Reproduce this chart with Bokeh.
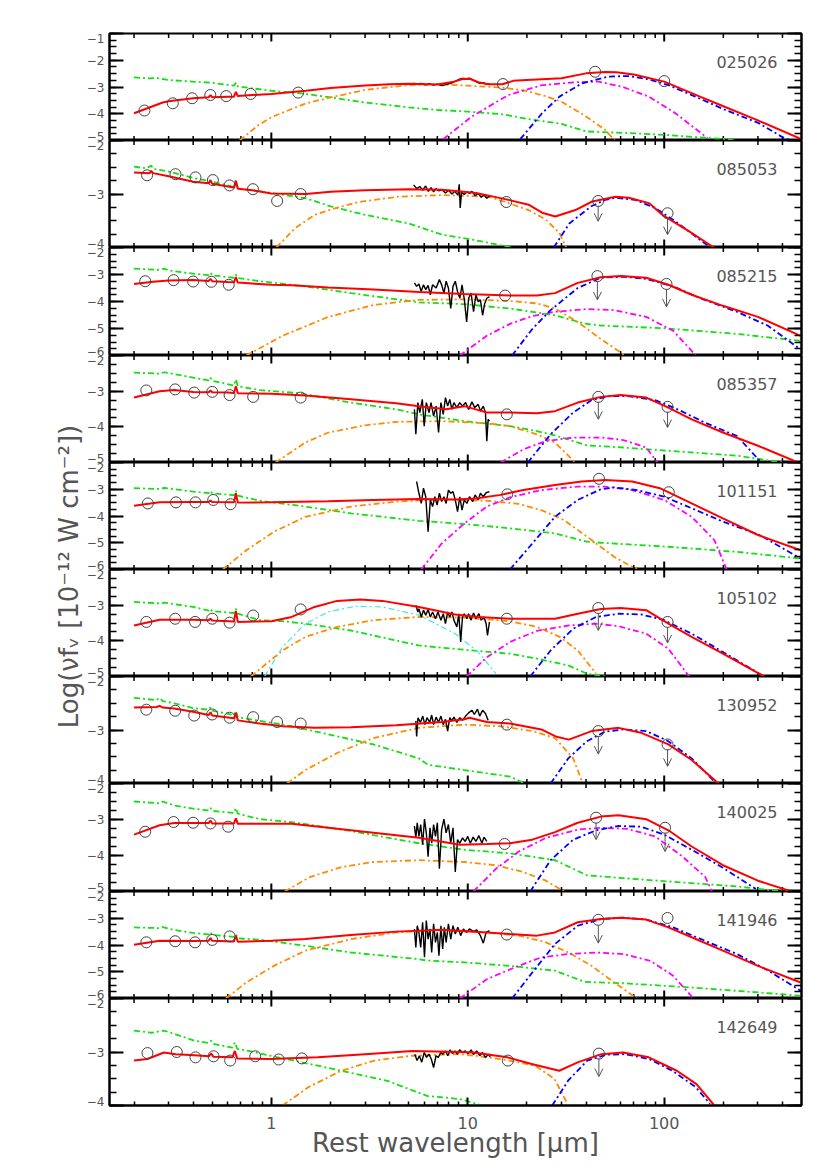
import math
from bokeh.plotting import figure
from bokeh.layouts import row, column
from bokeh.models import (Range1d, LogAxis, LinearAxis, FixedTicker, Label, Arrow,
                          OpenHead, ColumnDataSource, BasicTickFormatter)
from bokeh.embed import file_html
from bokeh.resources import INLINE

# ---------------------------------------------------------------- axes data
X_RANGE = (0.15, 500)
X_MAJOR = [1, 10, 100]
X_MINOR = [0.2, 0.3, 0.4, 0.5, 0.6, 0.7, 0.8, 0.9, 2, 3, 4, 5, 6, 7, 8, 9,
           20, 30, 40, 50, 60, 70, 80, 90, 200, 300, 400]
X_TITLE = "Rest wavelength [μm]"
Y_TITLE = "Log(νfᵥ [10⁻¹² W cm⁻²])"

# ---------------------------------------------------------------- panel 1
P1_ID = "025026"
P1_YLIM = (-5, -1)
P1_PHOT_X = [0.226, 0.315, 0.395, 0.489, 0.589, 0.785, 1.37, 15.1, 44.5, 100]
P1_PHOT_Y = [-3.88, -3.61, -3.42, -3.30, -3.34, -3.26, -3.21, -2.89, -2.43, -2.78]
P1_UL_X, P1_UL_Y0, P1_UL_Y1 = [], [], []
P1_RED_X = [0.2, 0.28, 0.3, 0.4, 0.48, 0.49, 0.5, 0.6, 0.645, 0.66, 0.675, 0.8, 1, 1.5, 2, 3, 4, 5,
            7, 8.5, 9.5, 10.3, 11.3, 12.7, 15, 17, 20, 30, 40, 50, 57, 70, 100, 150, 200, 300, 500]
P1_RED_Y = [-3.98, -3.58, -3.53, -3.42, -3.38, -3.30, -3.38, -3.36, -3.36, -3.18, -3.34, -3.30,
            -3.26, -3.14, -3.04, -2.94, -2.90, -2.88, -2.91, -2.80, -2.69, -2.70, -2.82, -2.90,
            -2.90, -2.77, -2.74, -2.67, -2.49, -2.44, -2.45, -2.53, -2.80, -3.34, -3.72, -4.25, -4.95]
P1_ORA_X = [0.69, 0.85, 1, 1.5, 2, 3, 5, 7, 10, 15, 20, 25, 30, 40, 50, 56]
P1_ORA_Y = [-5.0, -4.45, -4.13, -3.61, -3.39, -3.11, -2.93, -2.90, -2.95, -3.02, -3.15, -3.35,
            -3.55, -4.10, -4.60, -5.0]
P1_GRN_X = [0.2, 0.24, 0.26, 0.3, 0.4, 0.5, 0.52, 0.6, 0.645, 0.66, 0.675, 0.8, 1, 1.5, 2, 3, 5,
            7, 10, 15, 20, 30, 40, 50, 70, 100, 150, 200, 230]
P1_GRN_Y = [-2.64, -2.68, -2.66, -2.74, -2.80, -2.84, -2.86, -2.92, -2.95, -2.84, -2.98, -3.05,
            -3.14, -3.26, -3.39, -3.58, -3.76, -3.86, -3.92, -4.02, -4.19, -4.38, -4.66, -4.69,
            -4.73, -4.79, -4.88, -4.94, -5.0]
P1_MAG_X = [7.5, 10.5, 16.1, 23.9, 35.3, 46.5, 61, 83.6, 114, 166]
P1_MAG_Y = [-4.95, -4.10, -3.30, -2.93, -2.82, -2.80, -2.99, -3.36, -3.98, -4.91]
P1_BLU_X = [18.5, 23.9, 29.3, 38.2, 52, 65.6, 83.6, 105, 144, 205, 303, 407, 500]
P1_BLU_Y = [-4.95, -3.98, -3.36, -2.86, -2.61, -2.59, -2.71, -2.93, -3.36, -3.86, -4.35, -4.91, -5.1]
P1_SPEC_X = [5.3, 5.5, 5.8, 6.1, 6.4, 6.7, 7.0, 7.4, 7.8, 8.2, 8.6, 9.0, 9.4, 9.8, 10.2, 10.6,
             11.0, 11.5, 12.0, 12.5, 12.9]
P1_SPEC_Y = [-2.86, -2.90, -2.87, -2.92, -2.88, -2.93, -2.89, -2.95, -2.90, -2.86, -2.80, -2.72,
             -2.68, -2.70, -2.67, -2.73, -2.80, -2.86, -2.84, -2.90, -2.88]

# ---------------------------------------------------------------- panel 2
P2_ID = "085053"
P2_YLIM = (-4, -2)
P2_PHOT_X = [0.233, 0.325, 0.411, 0.504, 0.613, 0.806, 1.07, 1.41, 15.7, 46.1, 104]
P2_PHOT_Y = [-2.65, -2.63, -2.69, -2.74, -2.84, -2.91, -3.13, -3.00, -3.15, -3.13, -3.36]
P2_UL_X = [46.1, 104]
P2_UL_Y0 = [-3.22, -3.45]
P2_UL_Y1 = [-3.51, -3.76]
P2_RED_X = [0.2, 0.24, 0.245, 0.25, 0.3, 0.4, 0.48, 0.49, 0.5, 0.6, 0.645, 0.66, 0.675, 0.8, 1,
            1.5, 2, 3, 5, 7.4, 9, 11, 12.8, 16.1, 20.4, 23.9, 27.9, 35.3, 43, 56.5, 66, 83.6,
            97.8, 134, 179]
P2_RED_Y = [-2.60, -2.61, -2.57, -2.61, -2.67, -2.77, -2.80, -2.74, -2.81, -2.86, -2.88, -2.75,
            -2.90, -2.93, -2.99, -3.00, -2.96, -2.93, -2.91, -2.92, -2.95, -2.98, -3.03, -3.11,
            -3.20, -3.35, -3.42, -3.30, -3.14, -3.05, -3.07, -3.17, -3.39, -3.70, -4.0]
P2_ORA_X = [1.06, 1.32, 1.66, 2.1, 2.77, 4.43, 7.37, 12.8, 16.1, 20.4, 25, 29.3, 31.7]
P2_ORA_Y = [-4.0, -3.64, -3.39, -3.27, -3.15, -3.05, -3.02, -3.05, -3.17, -3.30, -3.48, -3.73, -4.0]
P2_GRN_X = [0.2, 0.23, 0.245, 0.25, 0.3, 0.4, 0.5, 0.6, 0.645, 0.66, 0.675, 0.8, 1, 1.5, 2, 3,
            5, 7.4, 10.8, 16.8]
P2_GRN_Y = [-2.49, -2.52, -2.47, -2.53, -2.58, -2.70, -2.77, -2.84, -2.87, -2.76, -2.90, -2.93,
            -2.98, -3.08, -3.23, -3.39, -3.55, -3.76, -3.86, -4.0]
P2_MAG_X, P2_MAG_Y = [], []
P2_BLU_X = [27.4, 32.9, 42.5, 50, 56.5, 71, 90, 114, 144, 172]
P2_BLU_Y = [-4.0, -3.55, -3.23, -3.11, -3.07, -3.11, -3.26, -3.51, -3.79, -4.0]
P2_SPEC_X = [5.3, 5.5, 5.7, 5.9, 6.1, 6.3, 6.5, 6.7, 6.9, 7.1, 7.4, 7.7, 8.0, 8.3, 8.6, 8.9,
             9.05, 9.15, 9.3, 9.6, 9.9, 10.2, 10.5, 10.9, 11.3, 11.7, 12.1, 12.5, 12.9]
P2_SPEC_Y = [-2.83, -2.90, -2.86, -2.93, -2.85, -2.95, -2.88, -2.96, -2.90, -2.94, -2.92, -2.98,
             -2.93, -3.00, -2.95, -3.02, -2.82, -3.26, -2.97, -3.01, -2.96, -2.99, -2.95, -3.03,
             -2.99, -3.06, -3.02, -3.08, -3.04]

# ---------------------------------------------------------------- panel 3
P3_ID = "085215"
P3_YLIM = (-6, -2)
P3_PHOT_X = [0.228, 0.318, 0.40, 0.495, 0.607, 15.5, 45.7, 102.7]
P3_PHOT_Y = [-3.25, -3.21, -3.26, -3.27, -3.38, -3.78, -3.06, -3.35]
P3_UL_X = [45.7, 102.7]
P3_UL_Y0 = [-3.25, -3.54]
P3_UL_Y1 = [-3.94, -4.20]
P3_RED_X = [0.2, 0.25, 0.3, 0.4, 0.48, 0.49, 0.5, 0.6, 0.645, 0.66, 0.675, 1, 1.27, 1.95, 3.31,
            5.64, 9.6, 16.4, 22.5, 27.8, 36.3, 47.6, 60, 81, 105, 138, 199, 300, 495]
P3_RED_Y = [-3.35, -3.27, -3.22, -3.20, -3.24, -3.16, -3.25, -3.28, -3.29, -3.10, -3.30, -3.38,
            -3.40, -3.48, -3.56, -3.65, -3.72, -3.78, -3.78, -3.69, -3.31, -3.10, -3.06, -3.12,
            -3.38, -3.75, -4.16, -4.57, -5.27]
P3_ORA_X = [0.746, 1.14, 1.95, 3.31, 5.64, 9.6, 16.4, 22.5, 27.8, 36.3, 47.6, 63.3]
P3_ORA_Y = [-6.0, -5.27, -4.57, -4.13, -3.94, -3.92, -3.98, -4.07, -4.26, -4.76, -5.39, -6.0]
P3_GRN_X = [0.2, 0.27, 0.285, 0.3, 0.4, 0.48, 0.49, 0.5, 0.645, 0.66, 0.675, 0.875, 1.49, 2.54,
            5.64, 9.6, 16.4, 27.8, 39.4, 47.6, 100, 235, 495]
P3_GRN_Y = [-2.78, -2.83, -2.78, -2.85, -2.97, -3.02, -2.93, -3.03, -3.12, -3.00, -3.13, -3.25,
            -3.44, -3.69, -4.03, -4.10, -4.26, -4.51, -4.82, -4.89, -4.99, -5.20, -5.46]
P3_MAG_X = [9.1, 12.5, 16.4, 21.3, 27.8, 40.4, 55.7, 81, 111, 145]
P3_MAG_Y = [-6.0, -5.27, -4.83, -4.54, -4.38, -4.28, -4.32, -4.57, -5.08, -6.0]
P3_BLU_X = [16.8, 21.3, 26.4, 36.3, 47.6, 62, 81, 111, 153, 234, 336, 493]
P3_BLU_Y = [-6.0, -5.02, -4.32, -3.50, -3.12, -3.08, -3.16, -3.44, -3.88, -4.38, -4.89, -5.77]
P3_SPEC_X = [5.35, 5.49, 5.64, 5.79, 5.95, 6.11, 6.28, 6.45, 6.62, 6.9, 7.17, 7.36, 7.56, 7.76,
             7.97, 8.19, 8.41, 8.64, 8.87, 9.11, 9.35, 9.61, 9.87, 10.1, 10.4, 10.7, 11.0, 11.3,
             11.6, 11.9, 12.2, 12.5, 12.9]
P3_SPEC_Y = [-3.31, -3.44, -3.35, -3.63, -3.38, -3.56, -3.40, -3.75, -3.38, -3.50, -3.19, -3.38,
             -3.69, -3.25, -3.50, -4.26, -3.44, -3.25, -3.63, -3.88, -3.38, -3.94, -4.76, -3.88,
             -3.69, -4.38, -3.75, -4.01, -3.94, -4.51, -4.07, -3.88, -3.82]

# ---------------------------------------------------------------- panel 4
P4_ID = "085357"
P4_YLIM = (-5, -2)
P4_PHOT_X = [0.231, 0.324, 0.405, 0.50, 0.613, 0.808, 1.41, 15.8, 46.2, 104]
P4_PHOT_Y = [-2.98, -2.95, -3.04, -3.02, -3.11, -3.16, -3.18, -3.65, -3.16, -3.44]
P4_UL_X = [46.2, 104]
P4_UL_Y0 = [-3.30, -3.58]
P4_UL_Y1 = [-3.79, -4.02]
P4_RED_X = [0.2, 0.27, 0.32, 0.4, 0.48, 0.49, 0.5, 0.6, 0.645, 0.66, 0.675, 1, 1.49, 2.54, 4.32,
            5.64, 7.76, 9.6, 11.0, 12.5, 16.4, 22.5, 27.8, 36.3, 47.6, 60, 81, 105, 138, 199,
            300, 480]
P4_RED_Y = [-3.18, -3.00, -2.97, -3.02, -3.03, -2.98, -3.03, -3.04, -3.05, -2.86, -3.06, -3.07,
            -3.12, -3.23, -3.34, -3.42, -3.51, -3.42, -3.51, -3.60, -3.60, -3.62, -3.56, -3.32,
            -3.16, -3.11, -3.18, -3.46, -3.79, -4.16, -4.53, -5.00]
P4_ORA_X = [1.05, 1.49, 1.95, 2.98, 4.32, 7.36, 12.5, 16.4, 22.5, 27.8, 35.3]
P4_ORA_Y = [-5.0, -4.44, -4.16, -3.96, -3.86, -3.84, -3.90, -3.98, -4.21, -4.44, -5.0]
P4_GRN_X = [0.2, 0.27, 0.285, 0.4, 0.48, 0.49, 0.5, 0.645, 0.66, 0.675, 0.875, 1.4, 2.54, 4.32,
            5.64, 9.6, 16.4, 22.5, 27.8, 40.4, 62, 105, 235, 400]
P4_GRN_Y = [-2.48, -2.51, -2.47, -2.62, -2.70, -2.62, -2.71, -2.84, -2.67, -2.86, -2.97, -3.06,
            -3.32, -3.51, -3.65, -3.84, -3.98, -4.12, -4.24, -4.52, -4.58, -4.67, -4.81, -5.0]
P4_MAG_X = [14.7, 19.2, 25, 34.4, 47.6, 62, 81, 92.3]
P4_MAG_Y = [-5.0, -4.63, -4.40, -4.30, -4.30, -4.37, -4.58, -5.0]
P4_BLU_X = [20.2, 26.4, 34.4, 42.7, 52.8, 65, 89.9, 117, 161, 235, 306]
P4_BLU_Y = [-5.0, -4.21, -3.60, -3.25, -3.14, -3.14, -3.25, -3.51, -3.88, -4.26, -4.95]
P4_SPEC_X = [5.35, 5.44, 5.57, 5.7, 5.87, 6.0, 6.15, 6.35, 6.5, 6.7, 6.9, 7.1, 7.3, 7.5, 7.7,
             7.9, 8.1, 8.3, 8.5, 8.8, 9.1, 9.4, 9.75, 10.1, 10.5, 10.85, 11.3, 11.6, 12.0, 12.3,
             12.5, 12.7, 12.9]
P4_SPEC_Y = [-3.51, -4.21, -3.32, -3.60, -3.23, -3.98, -3.32, -3.60, -3.32, -3.70, -3.42, -4.16,
             -3.32, -3.65, -3.18, -3.42, -3.23, -3.51, -3.32, -3.46, -3.32, -3.42, -3.32, -3.51,
             -3.30, -3.46, -3.37, -3.56, -3.42, -3.60, -4.40, -3.79, -3.84]

# ---------------------------------------------------------------- panel 5
P5_ID = "101151"
P5_YLIM = (-6, -2)
P5_PHOT_X = [0.235, 0.327, 0.411, 0.506, 0.62, 15.9, 46.6, 105.5]
P5_PHOT_Y = [-3.53, -3.49, -3.49, -3.40, -3.56, -3.19, -2.61, -3.11]
P5_UL_X, P5_UL_Y0, P5_UL_Y1 = [], [], []
P5_RED_X = [0.2, 0.27, 0.4, 0.48, 0.49, 0.5, 0.645, 0.66, 0.675, 1.0, 1.95, 3.31, 5.64, 8.6,
            11.0, 14.7, 19.2, 27.8, 38, 50, 68.7, 95, 138, 199, 300, 495]
P5_RED_Y = [-3.62, -3.49, -3.48, -3.48, -3.42, -3.48, -3.49, -3.15, -3.50, -3.49, -3.45, -3.40,
            -3.36, -3.38, -3.35, -3.21, -3.03, -2.84, -2.71, -2.65, -2.71, -2.96, -3.53, -4.09,
            -4.71, -5.28]
P5_ORA_X = [0.566, 0.746, 1.03, 1.49, 2.54, 4.32, 7.36, 12.5, 18.2, 23.7, 30.9, 42.7, 55.7, 72.7]
P5_ORA_Y = [-6.0, -5.28, -4.59, -4.03, -3.65, -3.46, -3.38, -3.43, -3.55, -3.78, -4.15, -4.90,
            -5.53, -6.0]
P5_GRN_X = [0.2, 0.27, 0.285, 0.4, 0.48, 0.49, 0.5, 0.645, 0.66, 0.675, 0.875, 1.49, 2.54, 5.64,
            9.6, 16.4, 27.8, 40.4, 47.6, 105, 235, 495]
P5_GRN_Y = [-2.96, -2.99, -2.95, -3.09, -3.14, -3.06, -3.15, -3.22, -3.06, -3.24, -3.43, -3.65,
            -3.90, -4.18, -4.30, -4.46, -4.65, -4.96, -5.0, -5.15, -5.34, -5.59]
P5_MAG_X = [5.8, 7.36, 9.6, 12.5, 16.4, 23.7, 36.3, 50, 68.7, 100, 138, 180, 208]
P5_MAG_Y = [-6.0, -5.03, -4.28, -3.65, -3.30, -3.03, -2.90, -2.90, -3.03, -3.40, -4.03, -4.90, -6.0]
P5_BLU_X = [16.4, 21.3, 27.8, 36.3, 47.6, 55.7, 72.7, 100, 138, 199, 306, 495]
P5_BLU_Y = [-6.0, -5.03, -4.03, -3.40, -3.00, -2.93, -3.03, -3.28, -3.71, -4.21, -4.71, -5.59]
P5_SPEC_X = [5.49, 5.64, 5.8, 5.95, 6.11, 6.28, 6.45, 6.62, 6.8, 6.98, 7.17, 7.36, 7.56, 7.76,
             7.97, 8.19, 8.41, 8.64, 8.87, 9.11, 9.35, 9.6, 9.9, 10.2, 10.6, 10.9, 11.3, 11.6,
             12.0, 12.4, 12.9]
P5_SPEC_Y = [-2.71, -3.15, -3.53, -2.96, -3.28, -4.59, -3.40, -3.65, -3.28, -3.59, -3.15, -3.46,
             -3.28, -3.53, -3.03, -3.15, -3.09, -3.40, -3.84, -3.28, -3.78, -3.40, -3.53, -3.28,
             -3.46, -3.21, -3.40, -3.15, -3.28, -3.13, -3.09]

# ---------------------------------------------------------------- panel 6
P6_ID = "105102"
P6_YLIM = (-5, -2)
P6_PHOT_X = [0.231, 0.324, 0.409, 0.50, 0.613, 0.808, 1.41, 15.8, 46.2, 104]
P6_PHOT_Y = [-3.47, -3.38, -3.47, -3.38, -3.49, -3.29, -3.12, -3.38, -3.08, -3.47]
P6_UL_X = [46.2, 104]
P6_UL_Y0 = [-3.22, -3.61]
P6_UL_Y1 = [-3.71, -4.06]
P6_RED_X = [0.2, 0.27, 0.4, 0.48, 0.49, 0.5, 0.645, 0.66, 0.675, 1.0, 1.27, 1.66, 2.16, 2.83,
            3.68, 5.64, 8.64, 11.3, 16.4, 27.8, 36.3, 47.6, 60, 81, 105, 138, 199, 323]
P6_RED_Y = [-3.57, -3.41, -3.41, -3.42, -3.38, -3.43, -3.46, -3.16, -3.47, -3.45, -3.33, -3.05,
            -2.88, -2.84, -2.88, -3.05, -3.26, -3.33, -3.38, -3.38, -3.24, -3.11, -3.08, -3.14,
            -3.52, -3.89, -4.36, -5.0]
P6_CYA_X = [0.923, 1.14, 1.49, 1.95, 2.68, 3.68, 5.64, 8.64, 11.3, 13.9]
P6_CYA_Y = [-5.0, -4.17, -3.52, -3.19, -3.03, -3.05, -3.28, -3.80, -4.31, -4.92]
P6_ORA_X = [0.787, 1.14, 1.49, 2.16, 3.31, 5.64, 9.6, 16.4, 22.5, 29.4, 36.3, 45]
P6_ORA_Y = [-5.0, -4.27, -3.89, -3.61, -3.42, -3.33, -3.35, -3.45, -3.61, -3.89, -4.27, -4.92]
P6_GRN_X = [0.2, 0.27, 0.285, 0.4, 0.48, 0.49, 0.5, 0.645, 0.66, 0.675, 0.875, 1.14, 1.49, 2.54,
            5.64, 9.6, 16.4, 22.5, 32.5, 40.4, 50]
P6_GRN_Y = [-2.91, -2.95, -2.93, -3.05, -3.15, -3.10, -3.17, -3.22, -3.10, -3.24, -3.42, -3.45,
            -3.52, -3.71, -4.13, -4.25, -4.36, -4.50, -4.69, -4.92, -5.0]
P6_MAG_X = [9.86, 12.5, 16.4, 22.5, 32.5, 45, 58.6, 81, 105, 134]
P6_MAG_Y = [-5.0, -4.46, -4.03, -3.72, -3.57, -3.52, -3.59, -3.80, -4.22, -5.0]
P6_BLU_X = [20.8, 26.4, 34.4, 45, 58.6, 76.3, 100, 138, 206, 322]
P6_BLU_Y = [-5.0, -4.27, -3.66, -3.33, -3.24, -3.26, -3.42, -3.80, -4.36, -5.0]
P6_SPEC_X = [5.44, 5.57, 5.64, 5.8, 5.95, 6.11, 6.28, 6.45, 6.62, 6.85, 7.05, 7.3, 7.5, 7.7, 7.9,
             8.1, 8.3, 8.5, 8.8, 9.0, 9.2, 9.4, 9.6, 9.9, 10.1, 10.4, 10.7, 11.0, 11.4, 11.7,
             12.1, 12.4, 12.6, 12.9]
P6_SPEC_Y = [-3.00, -3.19, -3.10, -3.33, -3.14, -3.28, -3.12, -3.33, -3.19, -3.38, -3.19, -3.42,
             -3.24, -3.52, -3.19, -3.33, -3.19, -3.42, -3.61, -3.24, -4.03, -3.33, -3.24, -3.38,
             -3.24, -3.42, -3.22, -3.38, -3.24, -3.42, -3.33, -3.52, -3.85, -3.47]

# ---------------------------------------------------------------- panel 7
P7_ID = "130952"
P7_YLIM = (-4, -2)
P7_PHOT_X = [0.231, 0.324, 0.405, 0.50, 0.613, 0.808, 1.07, 1.41, 15.8, 46.2, 104]
P7_PHOT_Y = [-2.62, -2.64, -2.73, -2.71, -2.77, -2.76, -2.85, -2.88, -2.90, -3.02, -3.27]
P7_UL_X = [46.2, 104]
P7_UL_Y0 = [-3.11, -3.36]
P7_UL_Y1 = [-3.45, -3.68]
P7_RED_X = [0.2, 0.26, 0.27, 0.28, 0.32, 0.4, 0.48, 0.49, 0.5, 0.645, 0.66, 0.675, 0.875, 1.14,
            1.66, 2.54, 4.32, 7.36, 9.6, 10.2, 12.5, 16.4, 23.7, 28, 32.7, 42.7, 58.6, 76, 105,
            138, 189]
P7_RED_Y = [-2.58, -2.57, -2.55, -2.58, -2.60, -2.66, -2.72, -2.67, -2.73, -2.78, -2.68, -2.82,
            -2.88, -2.93, -2.96, -2.95, -2.91, -2.85, -2.80, -2.77, -2.85, -2.88, -2.99, -3.12,
            -3.18, -3.02, -2.96, -3.05, -3.27, -3.56, -4.0]
P7_ORA_X = [1.2, 1.49, 2.16, 3.31, 5.64, 9.6, 14.7, 21.3, 27.8, 34.4, 38.5]
P7_ORA_Y = [-4.0, -3.75, -3.43, -3.15, -2.96, -2.90, -2.93, -3.02, -3.15, -3.53, -4.0]
P7_GRN_X = [0.2, 0.26, 0.27, 0.28, 0.32, 0.4, 0.48, 0.49, 0.5, 0.645, 0.66, 0.675, 0.875, 1.27,
            2.0, 3.31, 5.64, 6.27, 9.6, 16.4, 19.5]
P7_GRN_Y = [-2.40, -2.44, -2.40, -2.46, -2.50, -2.59, -2.62, -2.58, -2.64, -2.72, -2.64, -2.76,
            -2.83, -2.93, -3.09, -3.27, -3.53, -3.65, -3.75, -3.87, -4.0]
P7_MAG_X, P7_MAG_Y = [], []
P7_BLU_X = [26.4, 32.5, 40.4, 50, 62, 81, 105, 138, 180]
P7_BLU_Y = [-4.0, -3.53, -3.21, -3.03, -2.99, -3.02, -3.21, -3.53, -3.96]
P7_SPEC_X = [5.44, 5.49, 5.58, 5.74, 5.9, 6.05, 6.2, 6.4, 6.55, 6.7, 6.9, 7.1, 7.3, 7.5, 7.7,
             7.9, 8.1, 8.3, 8.5, 8.8, 9.1, 9.4, 9.75, 10.1, 10.5, 10.8, 11.2, 11.5, 11.9, 12.3,
             12.7]
P7_SPEC_Y = [-2.83, -3.12, -2.77, -2.86, -2.74, -2.90, -2.77, -2.86, -2.72, -2.90, -2.76, -2.86,
             -2.74, -2.90, -2.80, -3.02, -2.77, -2.83, -2.76, -2.86, -2.77, -2.82, -2.74, -2.68,
             -2.63, -2.71, -2.61, -2.74, -2.63, -2.69, -2.82]

# ---------------------------------------------------------------- panel 8
P8_ID = "140025"
P8_YLIM = (-5, -2)
P8_PHOT_X = [0.228, 0.318, 0.40, 0.49, 0.603, 15.4, 45, 101]
P8_PHOT_Y = [-3.34, -3.07, -3.09, -3.11, -3.20, -3.68, -2.95, -3.23]
P8_UL_X = [45, 101]
P8_UL_Y0 = [-3.09, -3.37]
P8_UL_Y1 = [-3.56, -3.89]
P8_RED_X = [0.2, 0.27, 0.32, 0.4, 0.48, 0.49, 0.5, 0.645, 0.66, 0.675, 0.875, 1.27, 1.95, 3.31,
            5.64, 9.1, 12.5, 16.4, 21.3, 27.8, 36.3, 47.6, 58.6, 81, 105, 138, 199, 300, 444]
P8_RED_Y = [-3.42, -3.16, -3.10, -3.10, -3.10, -3.03, -3.11, -3.11, -2.97, -3.12, -3.12, -3.12,
            -3.23, -3.37, -3.51, -3.70, -3.68, -3.66, -3.56, -3.35, -3.09, -2.92, -2.88, -2.99,
            -3.30, -3.75, -4.27, -4.70, -5.0]
P8_ORA_X = [1.17, 1.57, 2.28, 3.31, 5.64, 9.6, 13.9, 19.2, 25, 30.9]
P8_ORA_Y = [-5.0, -4.60, -4.32, -4.18, -4.13, -4.18, -4.27, -4.46, -4.70, -5.0]
P8_GRN_X = [0.2, 0.27, 0.28, 0.32, 0.4, 0.48, 0.49, 0.5, 0.645, 0.66, 0.675, 0.875, 1.34, 2.54,
            5.64, 9.6, 16.4, 27.8, 40.4, 62, 105, 235, 400]
P8_GRN_Y = [-2.50, -2.55, -2.50, -2.61, -2.70, -2.75, -2.68, -2.76, -2.82, -2.68, -2.84, -2.99,
            -3.09, -3.32, -3.66, -3.84, -3.94, -4.13, -4.55, -4.63, -4.72, -4.86, -5.0]
P8_MAG_X = [10.7, 13.9, 18.2, 25, 36.3, 47.6, 65, 89.9, 124, 162, 175]
P8_MAG_Y = [-5.0, -4.37, -3.89, -3.51, -3.28, -3.23, -3.26, -3.47, -4.03, -4.60, -5.0]
P8_BLU_X = [20.8, 26.4, 34.4, 45, 58.6, 76.3, 100, 138, 199, 293]
P8_BLU_Y = [-5.0, -4.13, -3.56, -3.30, -3.18, -3.20, -3.42, -3.84, -4.34, -4.93]
P8_SPEC_X = [5.35, 5.44, 5.53, 5.64, 5.76, 5.89, 6.02, 6.15, 6.28, 6.42, 6.55, 6.7, 6.85, 7.0,
             7.17, 7.36, 7.56, 7.76, 7.97, 8.19, 8.41, 8.64, 8.87, 9.11, 9.4, 9.7, 10.0, 10.3,
             10.65, 11.0, 11.4, 11.8, 12.1, 12.5]
P8_SPEC_Y = [-3.18, -3.51, -3.09, -3.47, -3.14, -3.70, -2.99, -3.37, -4.03, -3.23, -3.66, -3.14,
             -3.47, -3.09, -4.37, -3.28, -2.99, -3.37, -3.14, -3.66, -3.23, -4.46, -3.56, -3.66,
             -3.51, -3.61, -3.47, -3.66, -3.49, -3.61, -3.45, -3.66, -3.49, -3.61]

# ---------------------------------------------------------------- panel 9
P9_ID = "141946"
P9_YLIM = (-6, -2)
P9_PHOT_X = [0.231, 0.324, 0.409, 0.50, 0.613, 15.8, 46.2, 104]
P9_PHOT_Y = [-3.90, -3.86, -3.90, -3.81, -3.68, -3.61, -3.06, -2.99]
P9_UL_X = [46.2]
P9_UL_Y0 = [-3.25]
P9_UL_Y1 = [-3.93]
P9_RED_X = [0.2, 0.27, 0.4, 0.48, 0.49, 0.5, 0.645, 0.66, 0.675, 1.0, 1.49, 2.54, 4.32, 7.36,
            12.5, 16.4, 22.5, 27.8, 36.3, 47.6, 60, 81, 105, 138, 199, 300, 495]
P9_RED_Y = [-3.99, -3.84, -3.85, -3.84, -3.74, -3.84, -3.87, -3.65, -3.88, -3.84, -3.78, -3.63,
            -3.50, -3.43, -3.53, -3.59, -3.65, -3.53, -3.15, -3.03, -2.98, -3.05, -3.34, -3.71,
            -4.21, -4.78, -5.40]
P9_ORA_X = [0.587, 0.746, 1.03, 1.49, 2.54, 4.32, 7.36, 12.5, 18.2, 25, 32.5, 42.7, 55.7, 72.7]
P9_ORA_Y = [-6.0, -5.40, -4.78, -4.21, -3.78, -3.53, -3.44, -3.53, -3.65, -3.90, -4.28, -4.78,
            -5.40, -6.0]
P9_GRN_X = [0.2, 0.27, 0.28, 0.32, 0.4, 0.48, 0.49, 0.5, 0.645, 0.66, 0.675, 0.875, 1.49, 2.54,
            5.64, 6.2, 9.6, 16.4, 27.8, 39.4, 62, 138, 400, 495]
P9_GRN_Y = [-3.34, -3.37, -3.33, -3.44, -3.55, -3.60, -3.52, -3.62, -3.70, -3.60, -3.75, -3.80,
            -4.03, -4.28, -4.53, -4.58, -4.65, -4.78, -4.96, -5.38, -5.43, -5.59, -5.84, -5.90]
P9_MAG_X = [9.11, 12.5, 17.3, 23.7, 32.5, 45, 62, 85, 111, 141]
P9_MAG_Y = [-6.0, -5.28, -4.84, -4.46, -4.34, -4.28, -4.34, -4.59, -5.15, -6.0]
P9_BLU_X = [16.8, 21.3, 27.8, 36.3, 47.6, 62, 81, 111, 161, 235, 339, 505]
P9_BLU_Y = [-6.0, -5.03, -3.96, -3.28, -3.03, -2.98, -3.05, -3.34, -3.84, -4.34, -4.96, -5.75]
P9_SPEC_X = [5.35, 5.44, 5.53, 5.64, 5.76, 5.89, 6.02, 6.15, 6.28, 6.42, 6.55, 6.7, 6.85, 7.0,
             7.13, 7.3, 7.45, 7.6, 7.76, 7.97, 8.19, 8.41, 8.64, 8.9, 9.2, 9.5, 9.87, 10.2, 10.7,
             11.1, 11.6, 12.0, 12.4, 12.9]
P9_SPEC_Y = [-3.40, -4.09, -3.28, -3.53, -4.09, -3.15, -4.46, -3.09, -3.78, -3.40, -4.28, -3.21,
             -3.90, -3.53, -4.40, -3.28, -4.15, -3.34, -3.90, -3.21, -3.78, -3.28, -3.59, -3.34,
             -3.65, -3.40, -3.53, -3.40, -3.50, -3.43, -3.65, -3.93, -3.53, -3.46]

# ---------------------------------------------------------------- panel 10
P10_ID = "142649"
P10_YLIM = (-4, -2)
P10_PHOT_X = [0.234, 0.33, 0.411, 0.508, 0.617, 0.828, 1.09, 1.43, 16, 46.5]
P10_PHOT_Y = [-3.02, -3.00, -3.10, -3.08, -3.16, -3.08, -3.14, -3.12, -3.16, -3.03]
P10_UL_X = [46.5]
P10_UL_Y0 = [-3.12]
P10_UL_Y1 = [-3.46]
P10_RED_X = [0.2, 0.234, 0.284, 0.326, 0.407, 0.48, 0.494, 0.508, 0.634, 0.652, 0.67, 0.99, 1.72,
             3.0, 5.22, 9.1, 10.7, 15.9, 20.9, 29.2, 36.5, 47.9, 61.7, 83.5, 116, 146, 180]
P10_RED_Y = [-3.16, -3.13, -3.01, -3.04, -3.06, -3.08, -3.03, -3.09, -3.10, -2.98, -3.12, -3.13,
             -3.10, -3.04, -2.98, -3.00, -3.01, -3.10, -3.22, -3.35, -3.19, -3.04, -3.01, -3.10,
             -3.35, -3.60, -4.0]
P10_ORA_X = [1.14, 1.54, 2.27, 3.35, 5.2, 9.1, 12, 15.9, 22.1, 27.6, 32.5]
P10_ORA_Y = [-4.0, -3.66, -3.35, -3.16, -3.07, -3.04, -3.09, -3.15, -3.26, -3.50, -4.0]
P10_GRN_X = [0.2, 0.245, 0.284, 0.326, 0.407, 0.48, 0.494, 0.508, 0.634, 0.652, 0.67, 0.77, 0.99,
             1.38, 2.27, 3.9, 6.2, 9.1, 11.9]
P10_GRN_Y = [-2.60, -2.64, -2.60, -2.67, -2.79, -2.83, -2.79, -2.85, -2.92, -2.82, -2.94, -2.98,
             -3.07, -3.18, -3.35, -3.54, -3.82, -3.88, -4.0]
P10_MAG_X, P10_MAG_Y = [], []
P10_BLU_X = [26.9, 32.5, 40.6, 50.9, 63.3, 83.5, 110, 145, 171]
P10_BLU_Y = [-4.0, -3.53, -3.16, -3.05, -3.04, -3.13, -3.35, -3.66, -3.97]
P10_SPEC_X = [5.37, 5.52, 5.67, 5.83, 6.0, 6.17, 6.34, 6.52, 6.7, 6.89, 7.08, 7.28, 7.48, 7.7,
              7.91, 8.13, 8.36, 8.6, 8.84, 9.09, 9.4, 9.7, 10.05, 10.4, 10.7, 11.1, 11.5, 11.9,
              12.3, 12.8, 13.0]
P10_SPEC_Y = [-3.04, -3.16, -3.07, -3.19, -3.01, -3.10, -3.04, -3.13, -3.29, -3.07, -3.10, -3.01,
              -3.04, -2.98, -3.07, -2.96, -3.03, -2.98, -3.04, -2.96, -3.01, -2.98, -3.03, -2.96,
              -3.05, -2.98, -3.07, -3.01, -3.10, -3.04, -3.09]

# ---------------------------------------------------------------- assemble
def panel(pid, ylim, phot, ul, red, ora, grn, mag, blu, spec, cya=([], [])):
    return dict(id=pid, ylim=ylim, phot=phot, ul=ul, red=red, ora=ora, grn=grn,
                mag=mag, blu=blu, spec=spec, cya=cya)

PANELS = [
    panel(P1_ID, P1_YLIM, (P1_PHOT_X, P1_PHOT_Y), (P1_UL_X, P1_UL_Y0, P1_UL_Y1),
          (P1_RED_X, P1_RED_Y), (P1_ORA_X, P1_ORA_Y), (P1_GRN_X, P1_GRN_Y),
          (P1_MAG_X, P1_MAG_Y), (P1_BLU_X, P1_BLU_Y), (P1_SPEC_X, P1_SPEC_Y)),
    panel(P2_ID, P2_YLIM, (P2_PHOT_X, P2_PHOT_Y), (P2_UL_X, P2_UL_Y0, P2_UL_Y1),
          (P2_RED_X, P2_RED_Y), (P2_ORA_X, P2_ORA_Y), (P2_GRN_X, P2_GRN_Y),
          (P2_MAG_X, P2_MAG_Y), (P2_BLU_X, P2_BLU_Y), (P2_SPEC_X, P2_SPEC_Y)),
    panel(P3_ID, P3_YLIM, (P3_PHOT_X, P3_PHOT_Y), (P3_UL_X, P3_UL_Y0, P3_UL_Y1),
          (P3_RED_X, P3_RED_Y), (P3_ORA_X, P3_ORA_Y), (P3_GRN_X, P3_GRN_Y),
          (P3_MAG_X, P3_MAG_Y), (P3_BLU_X, P3_BLU_Y), (P3_SPEC_X, P3_SPEC_Y)),
    panel(P4_ID, P4_YLIM, (P4_PHOT_X, P4_PHOT_Y), (P4_UL_X, P4_UL_Y0, P4_UL_Y1),
          (P4_RED_X, P4_RED_Y), (P4_ORA_X, P4_ORA_Y), (P4_GRN_X, P4_GRN_Y),
          (P4_MAG_X, P4_MAG_Y), (P4_BLU_X, P4_BLU_Y), (P4_SPEC_X, P4_SPEC_Y)),
    panel(P5_ID, P5_YLIM, (P5_PHOT_X, P5_PHOT_Y), (P5_UL_X, P5_UL_Y0, P5_UL_Y1),
          (P5_RED_X, P5_RED_Y), (P5_ORA_X, P5_ORA_Y), (P5_GRN_X, P5_GRN_Y),
          (P5_MAG_X, P5_MAG_Y), (P5_BLU_X, P5_BLU_Y), (P5_SPEC_X, P5_SPEC_Y)),
    panel(P6_ID, P6_YLIM, (P6_PHOT_X, P6_PHOT_Y), (P6_UL_X, P6_UL_Y0, P6_UL_Y1),
          (P6_RED_X, P6_RED_Y), (P6_ORA_X, P6_ORA_Y), (P6_GRN_X, P6_GRN_Y),
          (P6_MAG_X, P6_MAG_Y), (P6_BLU_X, P6_BLU_Y), (P6_SPEC_X, P6_SPEC_Y),
          cya=(P6_CYA_X, P6_CYA_Y)),
    panel(P7_ID, P7_YLIM, (P7_PHOT_X, P7_PHOT_Y), (P7_UL_X, P7_UL_Y0, P7_UL_Y1),
          (P7_RED_X, P7_RED_Y), (P7_ORA_X, P7_ORA_Y), (P7_GRN_X, P7_GRN_Y),
          (P7_MAG_X, P7_MAG_Y), (P7_BLU_X, P7_BLU_Y), (P7_SPEC_X, P7_SPEC_Y)),
    panel(P8_ID, P8_YLIM, (P8_PHOT_X, P8_PHOT_Y), (P8_UL_X, P8_UL_Y0, P8_UL_Y1),
          (P8_RED_X, P8_RED_Y), (P8_ORA_X, P8_ORA_Y), (P8_GRN_X, P8_GRN_Y),
          (P8_MAG_X, P8_MAG_Y), (P8_BLU_X, P8_BLU_Y), (P8_SPEC_X, P8_SPEC_Y)),
    panel(P9_ID, P9_YLIM, (P9_PHOT_X, P9_PHOT_Y), (P9_UL_X, P9_UL_Y0, P9_UL_Y1),
          (P9_RED_X, P9_RED_Y), (P9_ORA_X, P9_ORA_Y), (P9_GRN_X, P9_GRN_Y),
          (P9_MAG_X, P9_MAG_Y), (P9_BLU_X, P9_BLU_Y), (P9_SPEC_X, P9_SPEC_Y)),
    panel(P10_ID, P10_YLIM, (P10_PHOT_X, P10_PHOT_Y), (P10_UL_X, P10_UL_Y0, P10_UL_Y1),
          (P10_RED_X, P10_RED_Y), (P10_ORA_X, P10_ORA_Y), (P10_GRN_X, P10_GRN_Y),
          (P10_MAG_X, P10_MAG_Y), (P10_BLU_X, P10_BLU_Y), (P10_SPEC_X, P10_SPEC_Y)),
]

for P in PANELS:
    for key in ("phot", "red", "ora", "grn", "mag", "blu", "spec", "cya"):
        xs, ys = P[key]
        if len(xs) != len(ys):
            raise ValueError(f"{P['id']} {key}: {len(xs)} != {len(ys)}")

# ---------------------------------------------------------------- styling
FONT = "DejaVu Sans"
TXT = "#555555"
FRAME_W = 692
FRAME_H = [107, 107, 108, 107, 107, 107, 107, 108, 107, 107]
TOP_PAD, BOTTOM_PAD, RIGHT_PAD = 33, 60, 10
GUTTER_W = 106          # left column holding the y title and the y tick labels
PANEL_LEFT = 2

COLORS = dict(red="#ff0000", ora="#ff8c00", grn="#11e011", mag="#ff00ff",
              blu="#0000ff", cya="#40e8e8", spec="#000000")
DASHDOT = "6 3 2 3"


def style_axis(ax, tick_in, minor_in):
    ax.axis_line_color = "black"
    ax.axis_line_width = 2
    ax.major_tick_in = tick_in
    ax.major_tick_out = 0
    ax.minor_tick_in = minor_in
    ax.minor_tick_out = 0
    ax.major_tick_line_color = "black"
    ax.minor_tick_line_color = "black"
    ax.major_tick_line_width = 2
    ax.minor_tick_line_width = 1.5


def minus(v):
    return ("−" if v < 0 else "") + str(abs(v))


def make_panel(i, P):
    fh = FRAME_H[i]
    first = i == 0
    last = i == len(PANELS) - 1
    ymin, ymax = P["ylim"]
    p = figure(x_axis_type="log", x_range=Range1d(*X_RANGE), y_range=Range1d(ymin, ymax),
               frame_width=FRAME_W, frame_height=fh,
               x_axis_location=None, y_axis_location=None,
               toolbar_location=None, output_backend="svg",
               min_border_left=PANEL_LEFT, min_border_right=RIGHT_PAD,
               min_border_top=TOP_PAD if first else 0,
               min_border_bottom=BOTTOM_PAD if last else 0)
    p.xgrid.visible = False
    p.ygrid.visible = False
    p.outline_line_color = "black"
    p.outline_line_width = 2
    p.background_fill_color = "white"
    p.border_fill_color = "white"

    yticks = list(range(ymin, ymax + 1))
    yt = FixedTicker(ticks=yticks,
                     minor_ticks=[ymin + 0.25 * k for k in range(4 * (ymax - ymin) + 1)])
    for side in ("left", "right"):
        ax = LinearAxis(ticker=yt)
        style_axis(ax, 14, 7)
        ax.major_label_overrides = {v: " " for v in yticks}
        ax.major_label_text_font_size = "1px"
        ax.major_label_standoff = 0
        p.add_layout(ax, side)

    if last:
        xt = FixedTicker(ticks=X_MAJOR, minor_ticks=X_MINOR)
        bottom = LogAxis(ticker=xt, formatter=BasicTickFormatter(use_scientific=False),
                         axis_label=X_TITLE)
        style_axis(bottom, 8, 4)
        bottom.major_label_text_font = FONT
        bottom.major_label_text_font_size = "16px"
        bottom.major_label_text_color = TXT
        bottom.major_label_standoff = 11
        bottom.axis_label_text_font = FONT
        bottom.axis_label_text_font_size = "26px"
        bottom.axis_label_text_font_style = "normal"
        bottom.axis_label_text_color = TXT
        bottom.axis_label_standoff = -4
        p.add_layout(bottom, "below")

    # inward tick marks along the shared top/bottom edges: vertical dashes centred on
    # the edge, the frame keeps only their inner half
    edges = [ymax] if last else [ymin, ymax]
    for yv in edges:
        p.scatter(X_MAJOR, [yv] * len(X_MAJOR), marker="dash", angle=math.pi / 2, size=16,
                  line_color="black", line_width=2)
        p.scatter(X_MINOR, [yv] * len(X_MINOR), marker="dash", angle=math.pi / 2, size=9,
                  line_color="black", line_width=1.5)

    # model components
    for key in ("grn", "ora", "cya", "mag", "blu"):
        xs, ys = P[key]
        if xs:
            p.line(xs, ys, line_color=COLORS[key], line_dash=DASHDOT,
                   line_width=1.2 if key == "cya" else 1.8)
    sx, sy = P["spec"]
    p.line(sx, sy, line_color=COLORS["spec"], line_width=1.4)
    rx, ry = P["red"]
    p.line(rx, ry, line_color=COLORS["red"], line_width=2)

    # photometry and upper limits
    px, py = P["phot"]
    p.scatter(px, py, marker="circle", size=11, fill_color=None,
              line_color="#444444", line_width=1)
    ux, uy0, uy1 = P["ul"]
    if ux:
        src = ColumnDataSource(dict(x=ux, y0=uy0, y1=uy1))
        p.add_layout(Arrow(end=OpenHead(size=8, line_color="#555555", line_width=1),
                           line_color="#555555", line_width=1, source=src,
                           x_start="x", y_start="y0", x_end="x", y_end="y1"))

    p.add_layout(Label(x=FRAME_W - 24, y=fh - 28, x_units="screen", y_units="screen",
                       text=P["id"], text_align="right", text_baseline="middle",
                       text_font=FONT, text_font_size="16px", text_color=TXT))
    return p


panels = [make_panel(i, P) for i, P in enumerate(PANELS)]
total_h = sum(FRAME_H) + TOP_PAD + BOTTOM_PAD

# left gutter: y title plus the y tick labels of every panel (the end labels are
# nudged inside their panel, as in the original)
gutter = figure(width=GUTTER_W, height=total_h, x_range=Range1d(0, 1), y_range=Range1d(0, 1),
                x_axis_location=None, y_axis_location=None, toolbar_location=None,
                output_backend="svg", min_border=0)
gutter.xgrid.visible = False
gutter.ygrid.visible = False
gutter.outline_line_color = None
gutter.add_layout(Label(x=68, y=total_h - 576, x_units="screen", y_units="screen",
                        angle=math.pi / 2, text=Y_TITLE, text_align="center",
                        text_baseline="alphabetic", text_font=FONT, text_font_size="26px",
                        text_color=TXT))
frame_top = TOP_PAD
for i, P in enumerate(PANELS):
    ymin, ymax = P["ylim"]
    fh = FRAME_H[i]
    for v in range(ymin, ymax + 1):
        ypix = frame_top + (ymax - v) / (ymax - ymin) * fh
        if v == ymax:
            ypix += 5
        elif v == ymin:
            ypix -= 4
        gutter.add_layout(Label(x=GUTTER_W - 2, y=total_h - ypix, x_units="screen",
                                y_units="screen", text=minus(v), text_align="right",
                                text_baseline="middle", text_font=FONT,
                                text_font_size="12px", text_color=TXT))
    frame_top += fh

layout = row(gutter, column(*panels, spacing=0), spacing=0)
open("out.html", "w").write(file_html(layout, INLINE))
